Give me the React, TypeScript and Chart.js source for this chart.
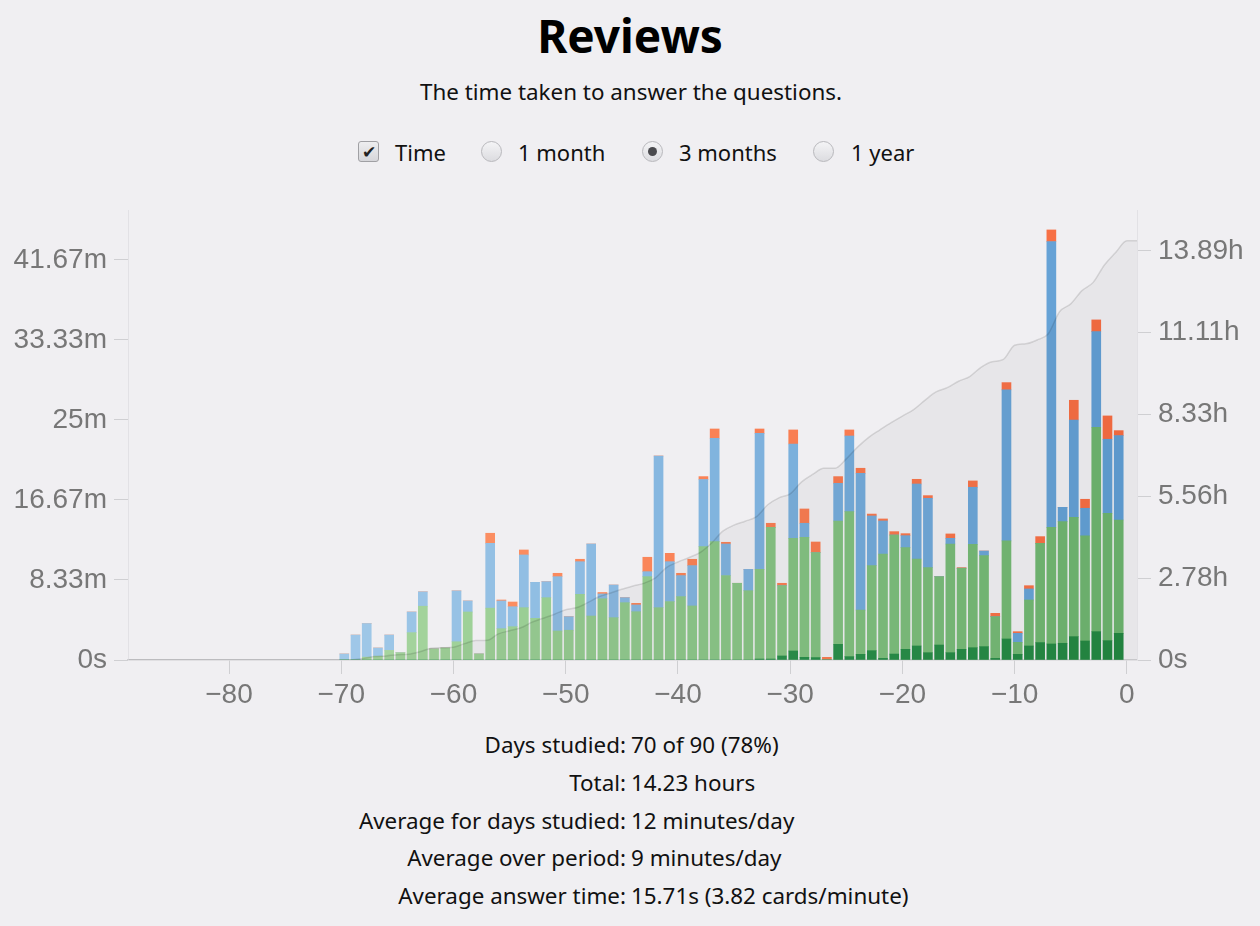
import React, { useEffect, useRef } from "react";
import { Chart, registerables } from "chart.js";
Chart.register(...registerables);

// ---- data (minutes per day) ----
const days = [
  -70, -69, -68, -67, -66, -65, -64, -63, -62, -61,
  -60, -59, -58, -57, -56, -55, -54, -53, -52, -51,
  -50, -49, -48, -47, -46, -45, -44, -43, -42, -41,
  -40, -39, -38, -37, -36, -35, -34, -33, -32, -31,
  -30, -29, -28, -27, -26, -25, -24, -23, -22, -21,
  -20, -19, -18, -17, -16, -15, -14, -13, -12, -11,
  -10, -9, -8, -7, -6, -5, -4, -3, -2, -1,
];
const mature = [
  0, 0, 0, 0, 0, 0, 0, 0, 0, 0,
  0, 0, 0, 0, 0, 0, 0, 0, 0, 0,
  0, 0, 0, 0, 0, 0, 0, 0, 0, 0,
  0, 0, 0, 0, 0, 0, 0, 0.1, 0.1, 0.42,
  0.94, 0.28, 0.25, 0, 1.63, 0.35, 0.59, 0.97, 0.17, 0.62,
  1.11, 1.46, 0.76, 1.56, 0.76, 1.11, 1.28, 1.39, 0.17, 2.19,
  0.59, 1.46, 1.81, 1.67, 1.74, 2.43, 1.98, 2.95, 2.01, 2.78,
];
const young = [
  0, 0, 0.3, 0.4, 1.0, 0.76, 2.85, 5.6, 1.15, 1.25,
  1.9, 5.0, 0.63, 5.4, 3.26, 3.47, 5.45, 4.34, 6.49, 3.02,
  3.1, 6.84, 4.58, 6.38, 4.41, 5.97, 5.03, 8.68, 5.45, 6.08,
  6.6, 5.63, 11.8, 12.33, 8.79, 7.99, 7.22, 9.34, 13.72, 7.32,
  11.73, 12.5, 10.93, 0, 12.85, 15.1, 4.61, 8.86, 10.87, 12.4,
  10.59, 9.06, 8.86, 7.12, 11.32, 8.45, 10.77, 9.48, 4.34, 10.21,
  1.25, 4.79, 10.34, 12.15, 12.67, 12.43, 10.94, 21.29, 13.27, 11.8,
];
const learn = [
  0.63, 2.6, 3.5, 0.85, 1.6, 0, 2.15, 1.5, 0, 0,
  5.3, 1.15, 0, 6.75, 2.89, 2.08, 5.49, 3.75, 1.67, 5.66,
  1.41, 3.4, 7.5, 0.5, 3.4, 0.52, 0.7, 0.52, 15.8, 4.16,
  2.19, 4.2, 7.0, 10.76, 3.29, 0, 2.22, 14.16, 0, 0,
  9.83, 1.46, 0, 0, 3.92, 7.88, 14.24, 5.17, 3.44, 0,
  1.25, 7.81, 7.22, 0, 0.59, 0, 5.94, 0.48, 0, 15.73,
  0.94, 1.15, 0, 29.76, 1.49, 10.14, 2.88, 9.96, 7.71, 8.79,
];
const relearn = [
  0, 0, 0, 0, 0, 0, 0, 0, 0, 0,
  0, 0, 0, 1.05, 0.1, 0.49, 0.52, 0, 0, 0.35,
  0, 0.25, 0, 0.15, 0, 0, 0.17, 1.5, 0, 0.87,
  0.24, 0.66, 0.3, 0.97, 0.18, 0, 0, 0.46, 0.42, 0.25,
  1.46, 1.49, 1.11, 0.28, 0.7, 0.63, 0.53, 0.2, 0.21, 0.35,
  0.21, 0.49, 0.28, 0, 0.46, 0.06, 0.66, 0, 0.35, 0.76,
  0.17, 0.34, 0.7, 1.21, 0, 2.05, 0.94, 1.22, 2.43, 0.52,
];

// tick values (seconds)
const leftTicksSec = [0, 500, 1000, 1500, 2000, 2500];
const rightTicksSec = [0, 10000, 20000, 30000, 40000, 50000];
const xTicks = [-80, -70, -60, -50, -40, -30, -20, -10, 0];

const statLabels = [
  "Days studied:",
  "Total:",
  "Average for days studied:",
  "Average over period:",
  "Average answer time:",
];
const statValues = [
  "70 of 90 (78%)",
  "14.23 hours",
  "12 minutes/day",
  "9 minutes/day",
  "15.71s (3.82 cards/minute)",
];

// ---- style constants ----
const BG = "#f0eff2";
const X_MIN = -89;
const X_MAX = 0.9;
const LEFT_MAX_MIN = 2812 / 60;
const RIGHT_MAX_H = 55000 / 3600;
const BAR_OFFSET = 0.27;

function mix(a: number[], b: number[], t: number) {
  const c = a.map((v, i) => Math.round(v + (b[i] - v) * t));
  return `rgb(${c[0]},${c[1]},${c[2]})`;
}
function ramp(a: number[], b: number[]) {
  return days.map((d) => mix(a, b, (d - days[0]) / (days[days.length - 1] - days[0])));
}

const fmtNum = (v: number) => String(parseFloat(v.toFixed(2)));

export default function App() {
  const ref = useRef<HTMLCanvasElement>(null);

  useEffect(() => {
    document.body.style.margin = "0";
    document.body.style.background = BG;
    const ctx = ref.current!;
    const pts = (arr: number[]) => arr.map((v, i) => ({ x: days[i] + BAR_OFFSET, y: v }));

    const cum: { x: number; y: number }[] = [{ x: X_MIN, y: 0 }, { x: days[0], y: 0 }];
    let s = 0;
    days.forEach((d, i) => {
      s += mature[i] + young[i] + learn[i] + relearn[i];
      cum.push({ x: d + 1, y: s / 60 });
    });
    cum.push({ x: X_MAX, y: s / 60 });

    const tickFont = { family: '"Liberation Sans", Arial, sans-serif', size: 28 };
    const gridCfg = { display: true, offset: false, drawOnChartArea: false, drawTicks: true, tickLength: 14, color: "#cfcfd2" };
    const noPadV = (sc: any, w: number) => {
      sc.width = w;
      sc.paddingTop = 0;
      sc.paddingBottom = 0;
    };

    const chart = new Chart(ctx, {
      type: "bar",
      data: {
        datasets: [
          {
            type: "line",
            label: "Cumulative",
            data: cum,
            yAxisID: "y1",
            borderColor: "rgba(0,0,0,0.12)",
            borderWidth: 1.5,
            backgroundColor: "rgba(0,0,0,0.035)",
            fill: "origin",
            pointRadius: 0,
            cubicInterpolationMode: "monotone",
            order: 0,
          } as any,
          {
            label: "Mature",
            data: pts(mature),
            backgroundColor: ramp([52, 155, 88], [36, 135, 66]),
            yAxisID: "y",
            barThickness: 9,
            order: 1,
          },
          {
            label: "Young",
            data: pts(young),
            backgroundColor: ramp([168, 214, 160], [108, 180, 110]),
            yAxisID: "y",
            barThickness: 9,
            order: 1,
          },
          {
            label: "Learning",
            data: pts(learn),
            backgroundColor: ramp([160, 200, 232], [96, 158, 212]),
            yAxisID: "y",
            barThickness: 9,
            order: 1,
          },
          {
            label: "Relearning",
            data: pts(relearn),
            backgroundColor: ramp([252, 150, 105], [247, 108, 66]),
            yAxisID: "y",
            barThickness: 9,
            order: 1,
          },
        ],
      },
      options: {
        animation: false,
        responsive: false,
        maintainAspectRatio: false,
        layout: { padding: { top: 10, left: 0, right: 0, bottom: 0 } },
        plugins: { legend: { display: false }, tooltip: { enabled: false } },
        scales: {
          x: {
            type: "linear",
            min: X_MIN,
            max: X_MAX,
            offset: false,
            stacked: true,
            afterBuildTicks: (sc: any) => {
              sc.ticks = xTicks.map((v) => ({ value: v }));
            },
            afterFit: (sc: any) => {
              sc.height = 50;
              sc.paddingLeft = 0;
              sc.paddingRight = 0;
            },
            ticks: {
              font: tickFont,
              color: "#777",
              padding: 4,
              maxRotation: 0,
              callback: (v: any) => (Number(v) < 0 ? "\u2212" + Math.abs(Number(v)) : String(v)),
            },
            grid: gridCfg,
            border: { display: true, color: "#cfcfd2", width: 1.5 },
          },
          y: {
            position: "left",
            stacked: true,
            min: 0,
            max: LEFT_MAX_MIN,
            afterBuildTicks: (sc: any) => {
              sc.ticks = leftTicksSec.map((v) => ({ value: v / 60 }));
            },
            afterFit: (sc: any) => noPadV(sc, 128),
            ticks: {
              font: tickFont,
              color: "#777",
              padding: 7,
              callback: (v: any) => (Number(v) === 0 ? "0s" : fmtNum(Number(v)) + "m"),
            },
            grid: gridCfg,
            border: { display: true, color: "#e2e1e5" },
          },
          y1: {
            position: "right",
            min: 0,
            max: RIGHT_MAX_H,
            afterBuildTicks: (sc: any) => {
              sc.ticks = rightTicksSec.map((v) => ({ value: v / 3600 }));
            },
            afterFit: (sc: any) => noPadV(sc, 123),
            ticks: {
              font: tickFont,
              color: "#777",
              padding: 7,
              callback: (v: any) => (Number(v) === 0 ? "0s" : fmtNum(Number(v)) + "h"),
            },
            grid: gridCfg,
            border: { display: true, color: "#e2e1e5" },
          },
        },
      } as any,
    });
    return () => chart.destroy();
  }, []);

  const font = '"Noto Sans", "Open Sans", sans-serif';
  const radio = (x: number, checked: boolean) => (
    <span
      style={{
        position: "absolute",
        left: x,
        top: 141,
        width: 21,
        height: 21,
        borderRadius: "50%",
        border: "1px solid #b8b8bc",
        background: "linear-gradient(#f4f4f6, #dcdce0)",
        boxSizing: "border-box",
      }}
    >
      {checked && (
        <span
          style={{
            position: "absolute",
            left: 5,
            top: 5,
            width: 9,
            height: 9,
            borderRadius: "50%",
            background: "#4a4a4e",
          }}
        />
      )}
    </span>
  );
  const label = (x: number, text: string) => (
    <span style={{ position: "absolute", left: x, top: 132, lineHeight: "40px", fontSize: 22, color: "#111" }}>
      {text}
    </span>
  );

  return (
    <div style={{ position: "relative", width: 1260, height: 926, background: BG, fontFamily: font, overflow: "hidden" }}>
      <div style={{ position: "absolute", left: 0, top: 0, width: 1260, textAlign: "center", lineHeight: "70px", fontSize: 46, fontWeight: 700, color: "#000" }}>
        Reviews
      </div>
      <div style={{ position: "absolute", left: 0, top: 72, width: 1262, textAlign: "center", lineHeight: "40px", fontSize: 22.4, color: "#111" }}>
        The time taken to answer the questions.
      </div>
      <span
        style={{
          position: "absolute",
          left: 358,
          top: 141,
          width: 21,
          height: 21,
          border: "1px solid #a0a0a4",
          borderRadius: 3,
          background: "linear-gradient(#eeeef0, #d6d6da)",
          boxSizing: "border-box",
          fontSize: 17,
          lineHeight: "19px",
          textAlign: "center",
          color: "#222",
        }}
      >
        ✔
      </span>
      {label(395, "Time")}
      {radio(481, false)}
      {label(518, "1 month")}
      {radio(642, true)}
      {label(679, "3 months")}
      {radio(813, false)}
      {label(851, "1 year")}

      <canvas ref={ref} width={1260} height={510} style={{ position: "absolute", left: 0, top: 200, width: 1260, height: 510 }} />

      {statLabels.map((l, i) => (
        <div key={l} style={{ position: "absolute", top: 726 + i * 37.8, left: 0, width: 1260, height: 38, lineHeight: "38px", fontSize: 22.4, color: "#111" }}>
          <span style={{ position: "absolute", right: 1260 - 626, whiteSpace: "nowrap" }}>{l}</span>
          <span style={{ position: "absolute", left: 631, whiteSpace: "nowrap" }}>{statValues[i]}</span>
        </div>
      ))}
    </div>
  );
}
